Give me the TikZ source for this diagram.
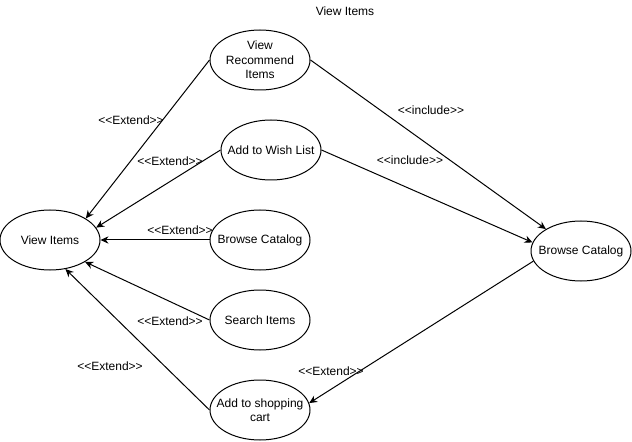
\documentclass[tikz,border=0pt]{standalone}
\usepackage{fontspec}
\newfontfamily\arial{Liberation Sans}
\usetikzlibrary{shapes,arrows.meta,positioning}

\begin{document}
\begin{tikzpicture}[x=0.75pt, y=-0.75pt, line width=0.75pt,
  font=\arial\fontsize{9}{10.9}\selectfont,
  usecase/.style={draw, ellipse, minimum width=75pt, minimum height=45pt, inner sep=0pt,
    label={[align=center]center:#1}},
  rel/.style={-{Stealth[length=6pt,width=5.5pt]}}]
\useasboundingbox (0,0) rectangle (632,442);

% Title
\node (title) at (345,11) {View Items};

% Use cases
\node[usecase={View Items}] (vi) at (50,240) {};
\node[usecase={View\\Recommend\\Items}] (vri) at (260,60) {};
\node[usecase={Add to Wish List}] (awl) at (271,150) {};
\node[usecase={Browse Catalog}] (bcm) at (260,240) {};
\node[usecase={Search Items}] (si) at (260,320) {};
\node[usecase={Add to shopping\\cart}] (cart) at (260,410) {};
\node[usecase={Browse Catalog}] (bcr) at (581,251) {};

% Extend relations
\draw[rel] (vri.west) -- (vi.31);
\draw[rel] (awl.west) -- (vi.15);
\draw[rel] (bcm.west) -- (vi.east);
\draw[rel] (si.west) -- (vi.-32);
\draw[rel] (cart.west) -- (vi.-62);
\draw[rel] (bcr.192) -- (cart.8);

% Include relations
\draw[rel] (vri.east) -- (bcr.148);
\draw[rel] (awl.east) -- (bcr.170);

% Stereotypes
\node (ext1) at (131,120) {<<Extend>>};
\node (ext2) at (170,161) {<<Extend>>};
\node (ext3) at (180,230) {<<Extend>>};
\node (ext4) at (170,321) {<<Extend>>};
\node (ext5) at (110,366) {<<Extend>>};
\node (ext6) at (331,371) {<<Extend>>};
\node (inc1) at (431,110) {<<include>>};
\node (inc2) at (410,160) {<<include>>};

\end{tikzpicture}
\end{document}
